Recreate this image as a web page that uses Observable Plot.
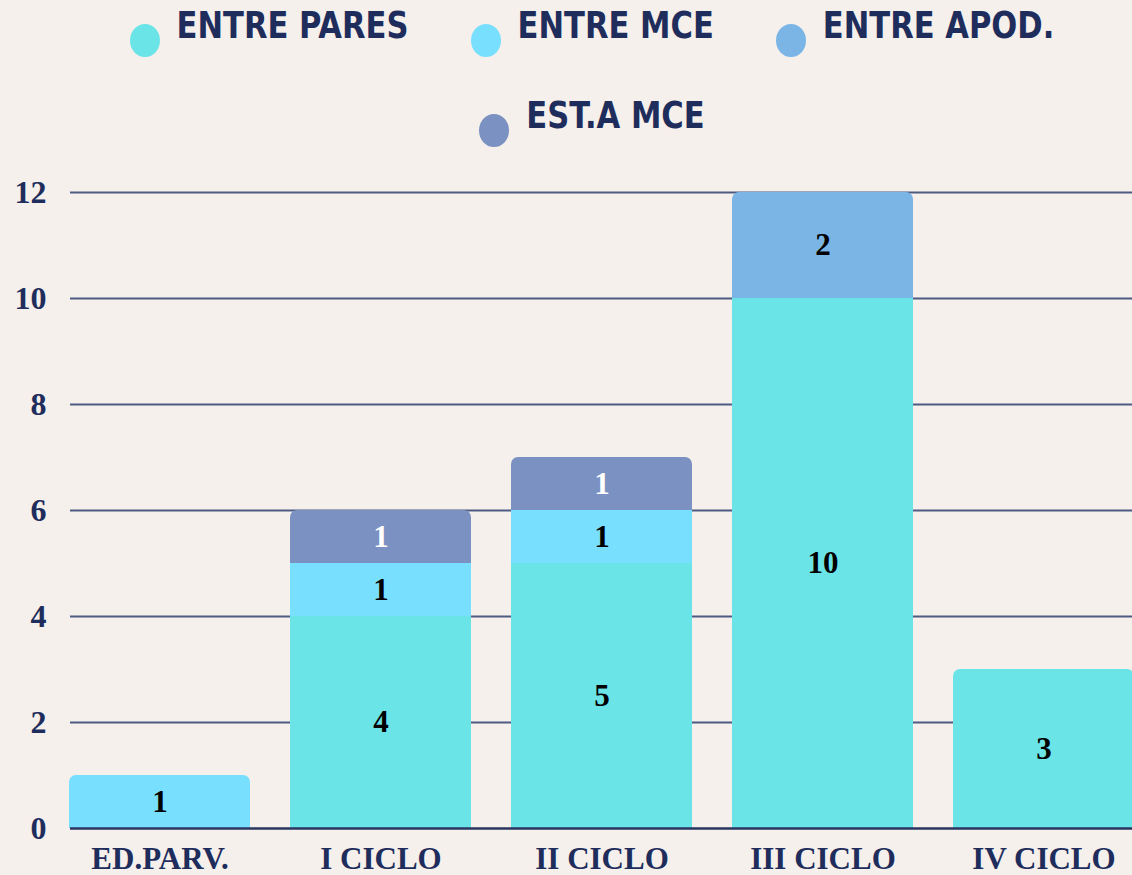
<!DOCTYPE html>
<html>
<head>
<meta charset="utf-8">
<script src="https://cdn.jsdelivr.net/npm/d3@7"></script>
<script src="https://cdn.jsdelivr.net/npm/@observablehq/plot@0.6"></script>
<style>
  html, body { margin: 0; padding: 0; background: #f5f0ec; overflow: hidden; width: 1132px; height: 875px; }
  #legend { position: relative; height: 160px; width: 1080px; margin-left: 52px; display: flex; flex-wrap: wrap; justify-content: center; align-content: flex-start; column-gap: 62px; row-gap: 0; }
  .item { display: flex; align-items: flex-start; height: 90px; padding-top: 8px; box-sizing: border-box; }
  .dot { width: 30px; height: 33px; border-radius: 50%; margin-top: 16px; margin-right: 17px; flex: none; }
  .lab { display: inline-block; transform: scaleY(1.1); transform-origin: 50% 50%; font-family: "DejaVu Sans Condensed", "DejaVu Sans", sans-serif; font-stretch: condensed; font-weight: bold; font-size: 34px; line-height: 34px; color: #1f2d5c; white-space: nowrap; }
  svg { overflow: hidden; }
</style>
</head>
<body>
<div id="legend"></div>
<div id="chart"></div>
<script>
const categories = ["ED.PARV.", "I CICLO", "II CICLO", "III CICLO", "IV CICLO"];
const series = ["ENTRE PARES", "ENTRE MCE", "ENTRE APOD.", "EST.A MCE"];
const entrePares = [0, 4, 5, 10, 3];
const entreMce   = [1, 1, 1, 0, 0];
const entreApod  = [0, 0, 0, 2, 0];
const estAMce    = [0, 1, 1, 0, 0];
const colors = ["#6be4e8", "#79dffe", "#7ab5e6", "#7b91c2"];
const labelColors = ["#000000", "#000000", "#000000", "#ffffff"];
const yTicks = [0, 2, 4, 6, 8, 10, 12];

const valuesBySeries = [entrePares, entreMce, entreApod, estAMce];

// legend
const legend = document.getElementById("legend");
series.forEach((s, i) => {
  const it = document.createElement("div");
  it.className = "item";
  const d = document.createElement("div");
  d.className = "dot";
  d.style.background = colors[i];
  const l = document.createElement("div");
  l.className = "lab";
  l.textContent = s;
  it.appendChild(d); it.appendChild(l);
  legend.appendChild(it);
});

// stacked segments
const segs = [];
const tops = [];
categories.forEach((c, ci) => {
  let acc = 0;
  let last = null;
  series.forEach((s, si) => {
    const v = valuesBySeries[si][ci];
    if (v > 0) {
      const seg = {cat: c, series: s, value: v, y1: acc, y2: acc + v, si};
      segs.push(seg);
      last = seg;
      acc += v;
    }
  });
  if (last) tops.push(last);
});
const bodies = segs.filter(d => !tops.includes(d));
const topLower = tops.map(d => ({...d, y2: (d.y1 + d.y2) / 2}));

const chart = Plot.plot({
  width: 1132,
  height: 715,
  marginTop: 32,
  marginBottom: 47,
  marginLeft: 48,
  marginRight: -24,
  style: {background: "transparent", fontFamily: "'Liberation Serif', 'DejaVu Serif', serif", fontWeight: "bold", fontSize: "32px", color: "#1f2d5c", overflow: "hidden"},
  x: {domain: categories, paddingInner: 0.18, paddingOuter: 0.09, label: null},
  y: {domain: [0, 12], label: null},
  color: {domain: series, range: colors},
  marks: [
    Plot.ruleY(yTicks.filter(t => t > 0), {y: d => d, insetLeft: 22, stroke: "#4d5a82", strokeWidth: 2}),
    Plot.rect(bodies, {x: "cat", y1: "y1", y2: "y2", fill: "series"}),
    Plot.rect(tops, {x: "cat", y1: "y1", y2: "y2", fill: "series", rx: 7}),
    Plot.rect(topLower, {x: "cat", y1: "y1", y2: "y2", fill: "series"}),
    Plot.ruleY([0], {insetLeft: 22, stroke: "#2a3560", strokeWidth: 2.5}),
    Plot.text(segs, {x: "cat", y: d => (d.y1 + d.y2) / 2, text: d => String(d.value), fill: d => labelColors[d.si], fontSize: 31, fontWeight: "bold", fontFamily: "'Liberation Serif', serif"}),
    Plot.axisY({ticks: yTicks, tickSize: 0, tickPadding: 2, fontSize: 32, fill: "#1f2d5c"}),
    Plot.axisX({tickSize: 0, tickPadding: 18, fontSize: 31, fill: "#1f2d5c"})
  ]
});
document.getElementById("chart").appendChild(chart);
</script>
</body>
</html>
